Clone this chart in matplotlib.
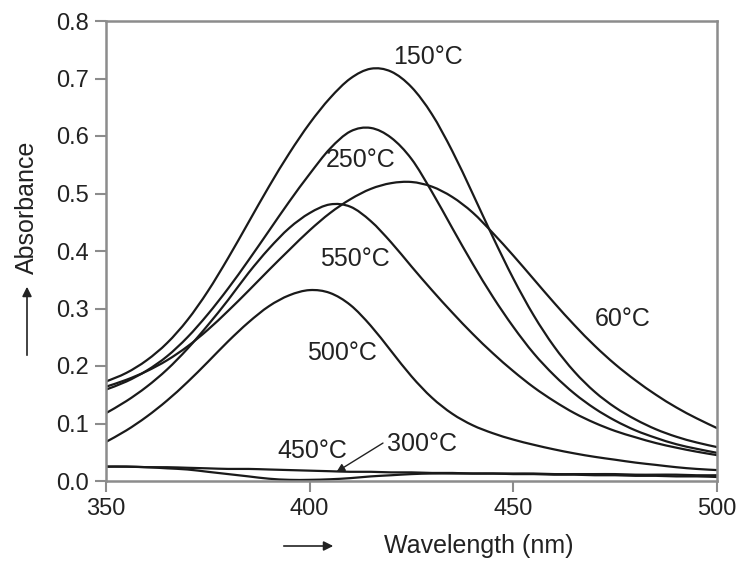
import numpy as np
import matplotlib
matplotlib.use("Agg")
import matplotlib.pyplot as plt
from matplotlib.path import Path
from matplotlib.patches import PathPatch, FancyArrowPatch

plt.rcParams['font.family'] = ['Liberation Sans', 'DejaVu Sans']

wavelength = np.arange(350, 501, 5)

a_60 = [0.164, 0.176, 0.191, 0.210, 0.234, 0.263, 0.296, 0.331, 0.367, 0.402, 0.436,
        0.466, 0.490, 0.508, 0.518, 0.520, 0.512, 0.494, 0.467, 0.431, 0.392,
        0.351, 0.310, 0.271, 0.235, 0.203, 0.175, 0.150, 0.128, 0.109, 0.092]
a_150 = [0.173, 0.188, 0.210, 0.240, 0.280, 0.330, 0.388, 0.450, 0.512, 0.570, 0.622,
         0.666, 0.700, 0.717, 0.712, 0.685, 0.638, 0.574, 0.500, 0.424, 0.352,
         0.288, 0.234, 0.190, 0.155, 0.128, 0.107, 0.090, 0.077, 0.067, 0.059]
a_250 = [0.159, 0.173, 0.192, 0.217, 0.250, 0.290, 0.335, 0.384, 0.435, 0.486, 0.534,
         0.578, 0.608, 0.614, 0.597, 0.560, 0.503, 0.440, 0.378, 0.320, 0.268,
         0.222, 0.184, 0.152, 0.126, 0.105, 0.088, 0.075, 0.064, 0.056, 0.049]
a_550 = [0.118, 0.139, 0.164, 0.194, 0.230, 0.271, 0.315, 0.362, 0.404, 0.440, 0.466,
         0.481, 0.477, 0.452, 0.415, 0.373, 0.332, 0.293, 0.256, 0.222, 0.191,
         0.163, 0.139, 0.118, 0.101, 0.087, 0.076, 0.066, 0.058, 0.051, 0.045]
a_500 = [0.068, 0.088, 0.112, 0.140, 0.172, 0.207, 0.243, 0.276, 0.304, 0.323, 0.332,
         0.327, 0.306, 0.270, 0.226, 0.182, 0.145, 0.117, 0.097, 0.083, 0.072,
         0.063, 0.055, 0.048, 0.042, 0.037, 0.032, 0.028, 0.024, 0.021, 0.019]
a_300 = [0.025, 0.025, 0.024, 0.024, 0.023, 0.022, 0.021, 0.021, 0.020, 0.019, 0.018,
         0.017, 0.016, 0.016, 0.015, 0.015, 0.014, 0.014, 0.013, 0.013, 0.013,
         0.013, 0.012, 0.012, 0.012, 0.012, 0.011, 0.011, 0.011, 0.010, 0.010]
a_450 = [0.025, 0.025, 0.024, 0.022, 0.020, 0.016, 0.012, 0.008, 0.004, 0.002, 0.002,
         0.003, 0.005, 0.008, 0.010, 0.012, 0.013, 0.013, 0.013, 0.013, 0.012,
         0.012, 0.011, 0.011, 0.010, 0.010, 0.009, 0.009, 0.008, 0.008, 0.007]

series = [a_60, a_150, a_250, a_550, a_500, a_300, a_450]

x_ticks = [350, 400, 450, 500]
y_ticks = [0.0, 0.1, 0.2, 0.3, 0.4, 0.5, 0.6, 0.7, 0.8]


def smooth_path(x, y):
    """Excel-style smoothed line: Catmull-Rom through the data points as Bezier."""
    p = np.column_stack([x, y]).astype(float)
    ext = np.vstack([p[0], p, p[-1]])
    verts = [p[0]]
    codes = [Path.MOVETO]
    for i in range(len(p) - 1):
        p0, p1, p2, p3 = ext[i], ext[i + 1], ext[i + 2], ext[i + 3]
        c1 = p1 + (p2 - p0) / 6.0
        c2 = p2 - (p3 - p1) / 6.0
        verts += [c1, c2, p2]
        codes += [Path.CURVE4] * 3
    return Path(verts, codes)


fig = plt.figure(figsize=(7.36, 5.61), dpi=100)
ax = fig.add_axes([106/736, 80/561, 611/736, 460/561])

for s in series:
    patch = PathPatch(smooth_path(wavelength, s), fill=False, edgecolor='#1a1a1a',
                      lw=1.6, transform=ax.transData, capstyle='round', joinstyle='round')
    ax.add_patch(patch)

ax.set_xlim(350, 500)
ax.set_ylim(0, 0.8)
ax.set_xticks(x_ticks)
ax.set_yticks(y_ticks)
ax.set_yticklabels([f"{v:.1f}" for v in y_ticks])
for sp in ax.spines.values():
    sp.set_color('#8c8c8c')
    sp.set_linewidth(1.8)
ax.tick_params(axis='both', direction='out', length=8, width=1.5, color='#8c8c8c',
               labelsize=17, labelcolor='#222222', pad=4)

fs = 18
tc = '#222222'
ax.text(429, 0.737, "150°C", fontsize=fs, color=tc, ha='center', va='center')
ax.text(412.4, 0.558, "250°C", fontsize=fs, color=tc, ha='center', va='center')
ax.text(411.1, 0.386, "550°C", fontsize=fs, color=tc, ha='center', va='center')
ax.text(407.9, 0.223, "500°C", fontsize=fs, color=tc, ha='center', va='center')
ax.text(476.9, 0.282, "60°C", fontsize=fs, color=tc, ha='center', va='center')
ax.text(400.6, 0.052, "450°C", fontsize=fs, color=tc, ha='center', va='center')
ax.text(427.6, 0.064, "300°C", fontsize=fs, color=tc, ha='center', va='center')
ax.annotate("", xy=(406.6, 0.016), xytext=(418.0, 0.066),
            arrowprops=dict(arrowstyle='-|>', color='#222222', lw=1.0,
                            mutation_scale=12, shrinkA=0, shrinkB=0))

# axis labels with arrows
fig.text(27/736, 1 - 207/561, "Absorbance", rotation=90, fontsize=fs, color=tc,
         ha='center', va='center')
fig.add_artist(FancyArrowPatch(
    (27/736, 1 - 358/561), (27/736, 1 - 284/561), transform=fig.transFigure,
    arrowstyle='-|>', mutation_scale=14, color='#222222', lw=1.2))
fig.text(479/736, 1 - 546/561, "Wavelength (nm)", fontsize=fs, color=tc,
         ha='center', va='center')
fig.add_artist(FancyArrowPatch(
    (281/736, 1 - 546/561), (336/736, 1 - 546/561), transform=fig.transFigure,
    arrowstyle='-|>', mutation_scale=14, color='#222222', lw=1.2))

fig.savefig("out.png", dpi=100)
